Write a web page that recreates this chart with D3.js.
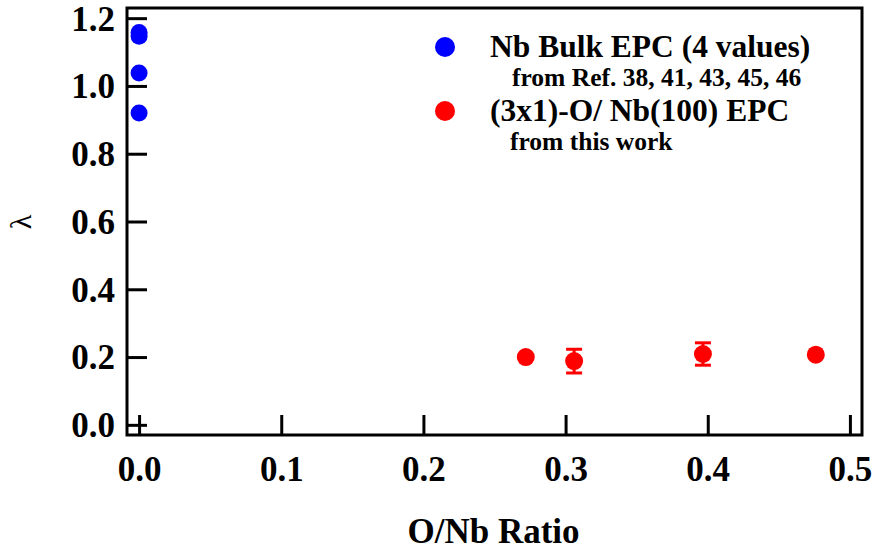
<!DOCTYPE html>
<html>
<head>
<meta charset="utf-8">
<script src="https://cdn.jsdelivr.net/npm/d3@7"></script>
<style>
  html, body { margin: 0; padding: 0; background: #fff; }
  svg text { font-family: "Liberation Serif", "Times New Roman", serif; }
</style>
</head>
<body>
<svg id="chart" width="875" height="552"></svg>
<script>
// ---- data ----
const bulkRatio  = [0, 0, 0, 0];
const bulkLambda = [1.158, 1.147, 1.038, 0.920];
const surfRatio  = [0.272, 0.306, 0.3966, 0.476];
const surfLambda = [0.200, 0.188, 0.209, 0.207];
const surfErr    = [0, 0.035, 0.033, 0];
const xTickValues = [0, 0.1, 0.2, 0.3, 0.4, 0.5];
const yTickValues = [0, 0.2, 0.4, 0.6, 0.8, 1.0, 1.2];
const legendLabels = ["Nb Bulk EPC (4 values)", "(3x1)-O/ Nb(100) EPC"];
const legendNotes  = ["from Ref. 38, 41, 43, 45, 46", "from this work"];
const xTitle = "O/Nb Ratio";
const yTitle = "\u03BB";

// ---- layout ----
const svg = d3.select("#chart");
const L = 127, R = 862, T = 8, B = 435;
const x = d3.scaleLinear().domain([-0.0085, 0.5085]).range([L, R]);
const y = d3.scaleLinear().domain([-0.03, 1.23]).range([B, T]);
const blue = "#0000ff", red = "#ff0000";

// inward ticks
const xAxis = d3.axisBottom(x).tickValues(xTickValues).tickFormat(d3.format(".1f"))
  .tickSizeInner(-20).tickSizeOuter(0).tickPadding(30);
const yAxis = d3.axisLeft(y).tickValues(yTickValues).tickFormat(d3.format(".1f"))
  .tickSizeInner(-20).tickSizeOuter(0).tickPadding(30);

const gx = svg.append("g").attr("transform", `translate(0,${B})`).call(xAxis);
const gy = svg.append("g").attr("transform", `translate(${L},0)`).call(yAxis);
[gx, gy].forEach(g => {
  g.select(".domain").remove();
  g.selectAll(".tick line").attr("stroke", "#000").attr("stroke-width", 3);
  g.selectAll(".tick text").attr("fill", "#000")
    .style("font-size", "35px").style("font-weight", "bold");
});
gx.selectAll(".tick text").attr("dy", "0.71em").attr("y", 21);
gy.selectAll(".tick text").attr("x", -12).attr("dy", "0.34em");

// frame
svg.append("rect").attr("x", L).attr("y", T).attr("width", R - L).attr("height", B - T)
  .attr("fill", "none").attr("stroke", "#000").attr("stroke-width", 3);

// titles
svg.append("text").attr("x", (L + R) / 2 - 1).attr("y", 543).attr("text-anchor", "middle")
  .style("font-size", "35px").style("font-weight", "bold").text(xTitle);
svg.append("text").attr("transform", "translate(31,222) rotate(-90)")
  .attr("text-anchor", "middle").style("font-size", "30px").text(yTitle);

// bulk points
svg.append("g").selectAll("circle").data(bulkRatio.map((d, i) => [d, bulkLambda[i]]))
  .join("circle").attr("cx", d => x(d[0])).attr("cy", d => y(d[1])).attr("r", 8.5)
  .attr("fill", blue);

// surface points with error bars
const surf = surfRatio.map((d, i) => ({ x: d, y: surfLambda[i], e: surfErr[i] }));
const eb = svg.append("g").attr("stroke", red).attr("stroke-width", 3);
surf.filter(d => d.e > 0).forEach(d => {
  const cx = x(d.x);
  eb.append("line").attr("x1", cx).attr("x2", cx).attr("y1", y(d.y - d.e)).attr("y2", y(d.y + d.e));
  eb.append("line").attr("x1", cx - 8).attr("x2", cx + 8).attr("y1", y(d.y - d.e)).attr("y2", y(d.y - d.e));
  eb.append("line").attr("x1", cx - 8).attr("x2", cx + 8).attr("y1", y(d.y + d.e)).attr("y2", y(d.y + d.e));
});
svg.append("g").selectAll("circle").data(surf).join("circle")
  .attr("cx", d => x(d.x)).attr("cy", d => y(d.y)).attr("r", 9).attr("fill", red);

// legend
const legY = [47, 111];
const legCol = [blue, red];
legendLabels.forEach((lab, i) => {
  svg.append("circle").attr("cx", 445).attr("cy", legY[i]).attr("r", 10).attr("fill", legCol[i]);
  svg.append("text").attr("x", 490).attr("y", legY[i] + 10)
    .style("font-size", "31.5px").style("font-weight", "bold").text(lab);
  svg.append("text").attr("x", 512 - i * 2).attr("y", legY[i] + 39)
    .style("font-size", "25.5px").style("font-weight", "bold").text(legendNotes[i]);
});
</script>
</body>
</html>
